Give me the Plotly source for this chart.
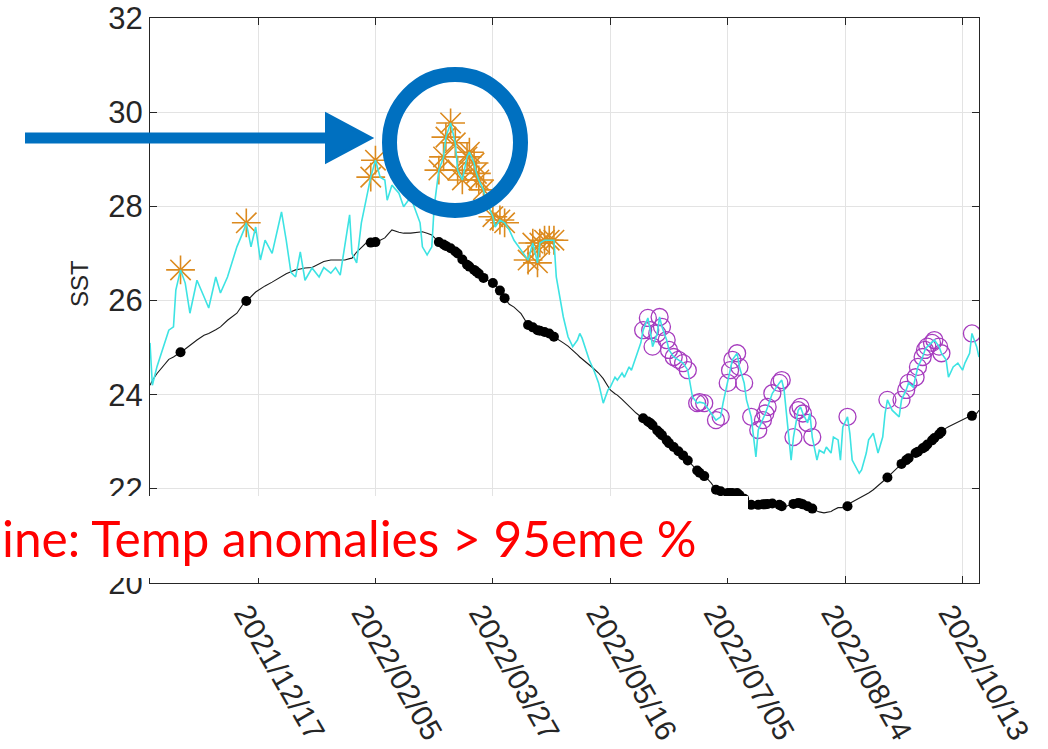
import pandas as pd
import plotly.graph_objects as go

# Daily SST record (day offsets from the first observation) and its climatology
start = pd.Timestamp("2021-11-01")
end = pd.Timestamp("2022-10-20")

day = [0, 1, 3, 8, 10, 11, 13, 15, 17, 20, 23, 25, 28, 30, 33, 35, 37, 40, 41, 43,
       45, 47, 49, 52, 56, 58, 60, 62, 64, 66, 69, 72, 74, 77, 79, 81, 83, 85, 86, 88,
       90, 92, 94, 96, 98, 100, 101, 103, 106, 108, 111, 113, 115, 116, 118, 120, 121, 123, 125, 126,
       128, 130, 131, 133, 135, 136, 138, 139, 140, 142, 143, 146, 147, 149, 151, 153, 155, 158, 161, 163,
       165, 166, 168, 170, 172, 173, 175, 176, 178, 180, 182, 183, 184, 187, 189, 191, 193, 195, 196, 198,
       199, 201, 202, 204, 205, 207, 209, 210, 212, 213, 214, 216, 217, 218, 220, 221, 223, 225, 227, 229,
       230, 231, 233, 234, 236, 237, 239, 241, 243, 244, 246, 247, 248, 250, 251, 253, 254, 256, 257, 258,
       259, 261, 262, 263, 265, 268, 269, 270, 272, 273, 274, 276, 277, 278, 280, 281, 282, 284, 285, 287,
       288, 290, 291, 293, 294, 295, 297, 298, 299, 302, 303, 305, 306, 308, 309, 310, 312, 313, 314, 316,
       319, 320, 322, 323, 325, 326, 327, 329, 330, 331, 333, 334, 336, 337, 339, 340, 342, 344, 346, 347,
       349, 350, 352, 353]

sst = [25.10, 24.20, 24.60, 25.37, 25.44, 26.22, 26.65, 26.37, 25.73, 26.43, 26.08, 25.84, 26.50, 26.16, 26.50, 26.80, 27.14, 27.50, 27.65, 27.14,
       27.56, 26.86, 27.28, 27.00, 27.88, 27.28, 26.60, 26.50, 27.03, 26.43, 26.69, 26.50, 26.70, 26.58, 26.70, 26.54, 27.22, 27.82, 27.00, 26.80,
       27.65, 28.13, 28.62, 28.98, 28.62, 28.56, 28.13, 28.45, 28.28, 27.99, 28.20, 27.92, 27.65, 27.14, 26.97, 27.14, 27.99, 28.77, 29.05, 29.47,
       29.77, 29.35, 28.77, 28.56, 29.05, 29.15, 28.92, 28.70, 28.56, 28.35, 28.13, 27.78, 27.56, 27.71, 27.65, 27.50, 27.28, 27.07, 26.86, 27.22,
       26.80, 27.22, 27.28, 27.28, 27.28, 26.50, 25.95, 25.65, 25.23, 25.02, 25.16, 25.30, 25.20, 24.74, 24.52, 24.25, 23.82, 24.10, 24.16, 24.37,
       24.31, 24.46, 24.37, 24.59, 24.52, 24.80, 25.10, 25.37, 25.63, 25.37, 25.02, 25.30, 25.65, 25.44, 25.16, 24.95, 24.80, 24.74, 24.67, 24.52,
       24.25, 23.95, 23.82, 23.84, 23.82, 23.74, 23.60, 23.46, 23.53, 23.82, 24.25, 24.52, 24.74, 24.88, 24.59, 24.25, 23.89, 23.53, 23.10, 22.68,
       23.25, 23.46, 23.60, 23.74, 24.03, 24.25, 24.31, 24.10, 23.04, 22.61, 23.10, 23.67, 23.74, 23.60, 23.40, 23.60, 23.10, 22.61, 22.82, 22.76,
       22.89, 22.76, 23.10, 23.04, 22.61, 23.31, 23.53, 23.18, 22.61, 22.33, 22.40, 22.76, 23.04, 23.18, 22.97, 22.76, 23.10, 23.60, 23.89, 23.67,
       23.53, 23.89, 24.10, 24.25, 24.16, 24.37, 24.59, 24.80, 24.95, 25.02, 25.10, 25.16, 25.02, 24.88, 24.74, 24.37, 24.59, 24.67, 24.52, 24.67,
       24.88, 25.30, 25.02, 24.80]

clim = [24.20, 24.30, 24.45, 24.75, 24.80, 24.84, 24.90, 24.97, 25.05, 25.16, 25.26, 25.30, 25.38, 25.44, 25.58, 25.66, 25.73, 25.95, 25.99, 26.08,
        26.18, 26.25, 26.31, 26.39, 26.52, 26.57, 26.61, 26.65, 26.67, 26.69, 26.70, 26.77, 26.83, 26.86, 26.86, 26.86, 26.86, 26.89, 26.90, 27.03,
        27.12, 27.22, 27.23, 27.24, 27.28, 27.33, 27.39, 27.50, 27.45, 27.43, 27.43, 27.44, 27.45, 27.46, 27.43, 27.39, 27.34, 27.24, 27.19, 27.16,
        27.11, 27.04, 27.00, 26.87, 26.76, 26.72, 26.65, 26.61, 26.57, 26.48, 26.45, 26.37, 26.32, 26.21, 26.05, 25.92, 25.86, 25.72, 25.48, 25.43,
        25.37, 25.36, 25.33, 25.30, 25.23, 25.20, 25.13, 25.10, 25.03, 24.95, 24.85, 24.80, 24.76, 24.63, 24.55, 24.46, 24.34, 24.18, 24.10, 24.02,
        23.99, 23.90, 23.85, 23.74, 23.70, 23.61, 23.53, 23.50, 23.43, 23.40, 23.35, 23.24, 23.19, 23.14, 23.03, 22.97, 22.89, 22.80, 22.71, 22.60,
        22.55, 22.50, 22.39, 22.34, 22.27, 22.23, 22.12, 21.98, 21.95, 21.94, 21.91, 21.91, 21.91, 21.91, 21.87, 21.79, 21.75, 21.66, 21.66, 21.66,
        21.66, 21.67, 21.67, 21.68, 21.69, 21.66, 21.63, 21.61, 21.65, 21.66, 21.68, 21.70, 21.69, 21.67, 21.63, 21.61, 21.58, 21.53, 21.51, 21.49,
        21.50, 21.52, 21.55, 21.60, 21.60, 21.60, 21.63, 21.69, 21.72, 21.80, 21.82, 21.87, 21.91, 21.98, 22.02, 22.06, 22.15, 22.19, 22.24, 22.34,
        22.49, 22.53, 22.61, 22.65, 22.72, 22.76, 22.79, 22.86, 22.89, 22.94, 23.03, 23.08, 23.16, 23.21, 23.29, 23.32, 23.37, 23.42, 23.47, 23.50,
        23.54, 23.55, 23.60, 23.67]

# Days above the 95th percentile (warm) and below the 5th percentile (cold)
hot_days = [13, 41, 94, 96, 123, 125, 126, 128, 130, 131, 133, 135, 136, 138, 139, 140, 142,
            146, 149, 151, 161, 163, 165, 166, 168, 170, 172]
cold_days = [210, 212, 213, 214, 216, 217, 218, 220, 221, 223, 225, 227, 229, 233, 234, 236,
             241, 243, 246, 247, 248, 250, 251, 253, 256, 259, 261, 262, 263, 265, 268, 269,
             274, 276, 277, 278, 280, 282, 297, 314, 320, 322, 323, 326, 327, 329, 330, 331,
             333, 334, 336, 337, 350]

tick_dates = ["2021-12-17", "2022-02-05", "2022-03-27", "2022-05-16",
              "2022-07-05", "2022-08-24", "2022-10-13"]
tick_labels = ["2021/12/17", "2022/02/05", "2022/03/27", "2022/05/16",
               "2022/07/05", "2022/08/24", "2022/10/13"]
y_ticks = [20, 22, 24, 26, 28, 30, 32]

dates = [start + pd.Timedelta(days=d) for d in day]
pos = {d: i for i, d in enumerate(day)}
event_days = sorted(hot_days + cold_days)

orange = "#DC8A1E"
purple = "#A63CBE"

fig = go.Figure()

# climatology
fig.add_trace(go.Scatter(x=dates, y=clim, mode="lines",
                         line=dict(color="#1a1a1a", width=1.1), hoverinfo="skip"))
# climatology on anomalous days
fig.add_trace(go.Scatter(x=[dates[pos[d]] for d in event_days],
                         y=[clim[pos[d]] for d in event_days], mode="markers",
                         marker=dict(color="black", size=10, symbol="circle")))
# warm anomalies
fig.add_trace(go.Scatter(x=[dates[pos[d]] for d in hot_days],
                         y=[sst[pos[d]] for d in hot_days], mode="markers",
                         marker=dict(symbol="asterisk-open", size=24, color=orange,
                                     line=dict(color=orange, width=1.6))))
# cold anomalies
fig.add_trace(go.Scatter(x=[dates[pos[d]] for d in cold_days],
                         y=[sst[pos[d]] for d in cold_days], mode="markers",
                         marker=dict(symbol="circle-open", size=17, color=purple,
                                     line=dict(color=purple, width=1.3))))
# observed SST
fig.add_trace(go.Scatter(x=dates, y=sst, mode="lines",
                         line=dict(color="#3DE3E3", width=1.6), hoverinfo="skip"))

L, R, T, B = 150, 979, 18, 583


def px(x):
    return (x - L) / (R - L)


def py(y):
    return (B - y) / (B - T)


blue = "#0070C0"
shapes = [
    # white panel behind the caption
    dict(type="rect", xref="paper", yref="paper", x0=px(-5), x1=px(748),
         y0=py(578), y1=py(496), fillcolor="white", line=dict(width=0), layer="above"),
    # arrow shaft
    dict(type="line", xref="paper", yref="paper", x0=px(25), x1=px(332),
         y0=py(138), y1=py(138), line=dict(color=blue, width=11), layer="above"),
    # arrow head
    dict(type="path", xref="paper", yref="paper",
         path=f"M {px(327)} {py(115)} L {px(370)} {py(138)} L {px(327)} {py(161)} Z",
         fillcolor=blue, line=dict(color=blue, width=4), layer="above"),
    # highlight ring
    dict(type="circle", xref="paper", yref="paper", x0=px(389.5), x1=px(520.5),
         y0=py(210.5), y1=py(74.5), line=dict(color=blue, width=15), layer="above"),
]

annotations = [
    dict(text="SST", xref="paper", yref="paper", x=px(79), y=py(284), textangle=-90,
         showarrow=False, font=dict(family="Liberation Sans", size=24, color="#262626"),
         xanchor="center", yanchor="middle"),
    dict(text="ine: Temp anomalies > 95eme %", xref="paper", yref="paper",
         x=px(0), y=py(538), xanchor="left", yanchor="middle", showarrow=False,
         font=dict(family="Lato", size=49.6, color="#FF0000")),
]

axis_common = dict(showline=True, linecolor="#262626", linewidth=1.2, mirror="ticks",
                   ticks="inside", ticklen=7, tickcolor="#262626", showgrid=True,
                   gridcolor="#e3e3e3", gridwidth=1, zeroline=False, automargin=False)

fig.update_layout(
    width=1048, height=749,
    margin=dict(l=L, r=1048 - R, t=T, b=749 - B),
    paper_bgcolor="white", plot_bgcolor="white",
    showlegend=False,
    shapes=shapes, annotations=annotations,
    xaxis=dict(range=[start, end], tickvals=tick_dates, ticktext=tick_labels,
               tickangle=60, ticklabelshift=-12,
               tickfont=dict(family="Liberation Sans", size=30, color="#262626"),
               **axis_common),
    yaxis=dict(range=[20, 32], tickvals=y_ticks,
               tickfont=dict(family="Liberation Sans", size=31, color="#262626"),
               **axis_common),
)

fig.write_html("out.html")
